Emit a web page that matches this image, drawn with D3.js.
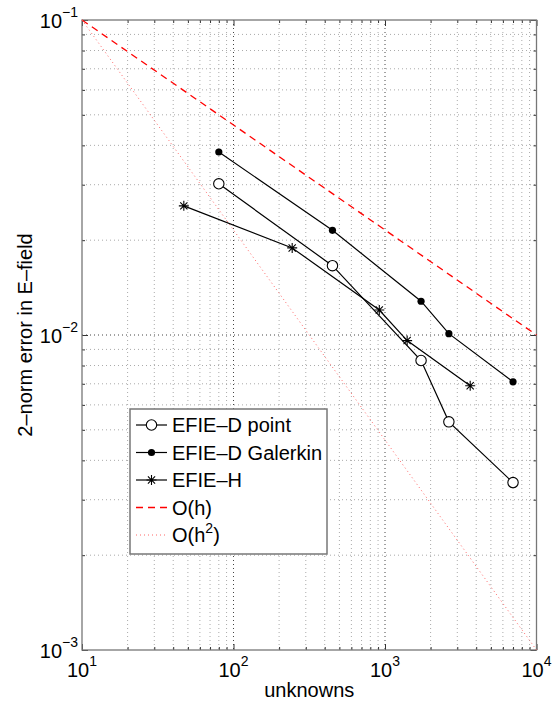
<!DOCTYPE html>
<html>
<head>
<meta charset="utf-8">
<script src="https://cdn.jsdelivr.net/npm/d3@7"></script>
<style>
  html, body { margin: 0; padding: 0; background: #fff; }
  svg text { font-family: "Liberation Sans", Arial, Helvetica, sans-serif; fill: #000; }
</style>
</head>
<body>
<div id="chart"></div>
<script>
// Konvergenzplot: Fehler vs. Unbekannte (log-log), MATLAB-Stil

// --- Daten ---
const xTicks   = [10, 100, 1000, 10000];
const xTickExp = ["1", "2", "3", "4"];
const yTicks   = [0.001, 0.01, 0.1];
const yTickExp = ["\u22123", "\u22122", "\u22121"];

const dN       = [80, 450, 1730, 2640, 7000];
const pointErr = [0.0302, 0.0166, 0.0083, 0.0053, 0.0034];
const galErr   = [0.0381, 0.0215, 0.0128, 0.0101, 0.0071];

const hN       = [47, 244, 917, 1400, 3650];
const hErr     = [0.0257, 0.0189, 0.0120, 0.0096, 0.0069];

const refN     = [10, 10000];
const ohErr    = [0.1, 0.01];
const oh2Err   = [0.1, 0.001];

const xLabel = "unknowns";
const yLabel = "2\u2013norm error in E\u2013field";

// --- Layout ---
const W = 559, H = 703;
const m = { top: 20, right: 22.5, bottom: 53, left: 82 };
const iw = W - m.left - m.right, ih = H - m.top - m.bottom;

const svg = d3.select("#chart").append("svg").attr("width", W).attr("height", H);
const g = svg.append("g").attr("transform", `translate(${m.left},${m.top})`);

const x = d3.scaleLog().domain([10, 10000]).range([0, iw]);
const y = d3.scaleLog().domain([0.001, 0.1]).range([ih, 0]);

// Minor-Positionen (2..9 je Dekade)
const minorX = [], minorY = [];
for (let e = 1; e < 4; e++) for (let k = 2; k <= 9; k++) minorX.push(k * Math.pow(10, e));
for (let e = -3; e < -1; e++) for (let k = 2; k <= 9; k++) minorY.push(k * Math.pow(10, e));

// Gitter
const grid = g.append("g");
grid.selectAll("line.gmx").data(minorX).join("line")
  .attr("x1", d => x(d)).attr("x2", d => x(d)).attr("y1", 0).attr("y2", ih)
  .attr("stroke", "#aaa").attr("stroke-width", 1).attr("stroke-dasharray", "1,3");
grid.selectAll("line.gmy").data(minorY).join("line")
  .attr("y1", d => y(d)).attr("y2", d => y(d)).attr("x1", 0).attr("x2", iw)
  .attr("stroke", "#aaa").attr("stroke-width", 1).attr("stroke-dasharray", "1,3");
grid.selectAll("line.gx").data(xTicks.slice(1, -1)).join("line")
  .attr("x1", d => x(d)).attr("x2", d => x(d)).attr("y1", 0).attr("y2", ih)
  .attr("stroke", "#444").attr("stroke-width", 1).attr("stroke-dasharray", "1,3");
grid.selectAll("line.gy").data(yTicks.slice(1, -1)).join("line")
  .attr("y1", d => y(d)).attr("y2", d => y(d)).attr("x1", 0).attr("x2", iw)
  .attr("stroke", "#444").attr("stroke-width", 1).attr("stroke-dasharray", "1,3");

// Achsen mit Ticks nach innen (alle vier Seiten)
function ax(axisFn, scale, vals, size, tr) {
  const a = g.append("g").attr("transform", tr)
    .call(axisFn(scale).tickValues(vals).tickSize(size).tickFormat(""));
  a.select(".domain").remove();
  a.selectAll("line").attr("stroke", "#333");
}
ax(d3.axisBottom, x, minorX, -3, `translate(0,${ih})`);
ax(d3.axisBottom, x, xTicks, -6, `translate(0,${ih})`);
ax(d3.axisTop, x, minorX, -3, "translate(0,0)");
ax(d3.axisTop, x, xTicks, -6, "translate(0,0)");
ax(d3.axisLeft, y, minorY, -3, "translate(0,0)");
ax(d3.axisLeft, y, yTicks, -6, "translate(0,0)");
ax(d3.axisRight, y, minorY, -3, `translate(${iw},0)`);
ax(d3.axisRight, y, yTicks, -6, `translate(${iw},0)`);

g.append("rect").attr("x", 0).attr("y", 0).attr("width", iw).attr("height", ih)
  .attr("fill", "none").attr("stroke", "#777").attr("stroke-width", 1.3);

// Tick-Labels 10^n
g.selectAll("text.xt").data(xTicks).join("text")
  .attr("x", d => x(d)).attr("y", ih + 27).attr("text-anchor", "middle")
  .attr("font-size", 20)
  .each(function(d, i) {
    const t = d3.select(this);
    t.append("tspan").text("10");
    t.append("tspan").attr("dy", -11).attr("font-size", 14).text(xTickExp[i]);
  });
g.selectAll("text.yt").data(yTicks).join("text")
  .attr("x", -4).attr("y", d => y(d) + 7.5).attr("text-anchor", "end")
  .attr("font-size", 20)
  .each(function(d, i) {
    const t = d3.select(this);
    t.append("tspan").text("10");
    t.append("tspan").attr("dy", -11).attr("font-size", 14).text(yTickExp[i]);
  });

// Achsentitel
g.append("text").attr("x", iw / 2).attr("y", ih + 47).attr("text-anchor", "middle")
  .attr("font-size", 20).text(xLabel);
g.append("text").attr("transform", `translate(${32 - m.left},${ih / 2}) rotate(-90)`)
  .attr("text-anchor", "middle").attr("font-size", 20).text(yLabel);

// Referenzlinien
const line = d3.line().x(d => x(d[0])).y(d => y(d[1]));
g.append("path").datum(d3.zip(refN, ohErr)).attr("d", line)
  .attr("fill", "none").attr("stroke", "#f00").attr("stroke-width", 1.3)
  .attr("stroke-dasharray", "7,5");
g.append("path").datum(d3.zip(refN, oh2Err)).attr("d", line)
  .attr("fill", "none").attr("stroke", "#f66").attr("stroke-width", 1)
  .attr("stroke-dasharray", "1,3");

// Datenreihen
function series(N, E, marker) {
  const pts = d3.zip(N, E);
  g.append("path").datum(pts).attr("d", line)
    .attr("fill", "none").attr("stroke", "#000").attr("stroke-width", 1.2);
  pts.forEach(p => marker(g, x(p[0]), y(p[1])));
}
function mCircle(sel, cx, cy) {
  sel.append("circle").attr("cx", cx).attr("cy", cy).attr("r", 5.2)
    .attr("fill", "#fff").attr("stroke", "#000").attr("stroke-width", 1.1);
}
function mDot(sel, cx, cy) {
  sel.append("circle").attr("cx", cx).attr("cy", cy).attr("r", 3.6).attr("fill", "#000");
}
function mStar(sel, cx, cy) {
  const r = 5, d = r * 0.72;
  const p = `M${cx - r},${cy}L${cx + r},${cy}M${cx},${cy - r}L${cx},${cy + r}` +
            `M${cx - d},${cy - d}L${cx + d},${cy + d}M${cx - d},${cy + d}L${cx + d},${cy - d}`;
  sel.append("path").attr("d", p).attr("stroke", "#000").attr("stroke-width", 1.1).attr("fill", "none");
}
series(dN, galErr, mDot);
series(dN, pointErr, mCircle);
series(hN, hErr, mStar);

// Legende
const lg = svg.append("g").attr("transform", "translate(130,409)");
lg.append("rect").attr("width", 197).attr("height", 145)
  .attr("fill", "#fff").attr("stroke", "#777").attr("stroke-width", 1.5);
const entries = [
  { label: "EFIE\u2013D point",    stroke: "#000", dash: null,  w: 1.2, mk: mCircle },
  { label: "EFIE\u2013D Galerkin", stroke: "#000", dash: null,  w: 1.2, mk: mDot },
  { label: "EFIE\u2013H",          stroke: "#000", dash: null,  w: 1.2, mk: mStar },
  { label: "O(h)",                 stroke: "#f00", dash: "7,5", w: 1.3, mk: null },
  { label: "O(h",                  stroke: "#f66", dash: "1,3", w: 1,   mk: null, sup: "2" }
];
entries.forEach((e, i) => {
  const cy = 16 + i * 27.5;
  lg.append("line").attr("x1", 6).attr("x2", 37).attr("y1", cy).attr("y2", cy)
    .attr("stroke", e.stroke).attr("stroke-width", e.w).attr("stroke-dasharray", e.dash);
  if (e.mk) e.mk(lg, 21.5, cy);
  const t = lg.append("text").attr("x", 42).attr("y", cy + 7).attr("font-size", 20);
  t.append("tspan").text(e.label);
  if (e.sup) {
    t.append("tspan").attr("dy", -9).attr("font-size", 14).text(e.sup);
    t.append("tspan").attr("dy", 9).text(")");
  }
});
</script>
</body>
</html>
